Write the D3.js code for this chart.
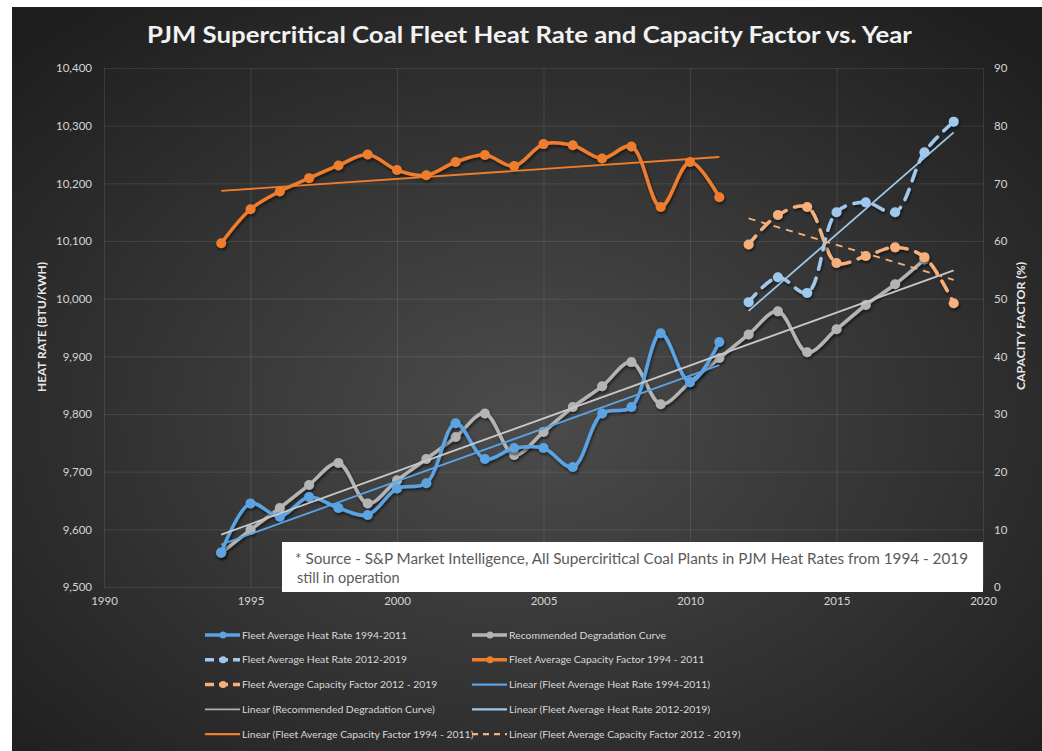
<html lang="en">
<head>
<meta charset="UTF-8" />
<title>PJM Supercritical Coal Fleet</title>
<script src="https://cdn.jsdelivr.net/npm/d3@7"></script>
<style>
  body { margin: 0; background: #fff; }
  text { font-family: Lato, "Open Sans", sans-serif; }
</style>
</head>
<body>
<script>
// ---- data ----
const years1 = [1994, 1995, 1996, 1997, 1998, 1999, 2000, 2001, 2002, 2003, 2004, 2005, 2006, 2007, 2008, 2009, 2010, 2011];
const years2 = [2012, 2013, 2014, 2015, 2016, 2017, 2018, 2019];
const degYears = [1994, 1995, 1996, 1997, 1998, 1999, 2000, 2001, 2002, 2003, 2004, 2005, 2006, 2007, 2008, 2009, 2010, 2011, 2012, 2013, 2014, 2015, 2016, 2017, 2018];

const heatRate1 = [9560, 9645, 9622, 9656, 9637, 9625, 9671, 9680, 9784, 9722, 9741, 9741, 9708, 9801, 9812, 9940, 9855, 9925];
const heatRate2 = [9994, 10037, 10010, 10150, 10167, 10150, 10254, 10307];
const degradation = [9559, 9599, 9637, 9677, 9715, 9645, 9685, 9722, 9760, 9801, 9729, 9769, 9812, 9848, 9890, 9817, 9855, 9897, 9938, 9978, 9907, 9947, 9989, 10025, 10068];
const capFactor1 = [59.6, 65.5, 68.6, 70.9, 73.1, 75.0, 72.3, 71.4, 73.7, 74.9, 73.0, 76.8, 76.6, 74.3, 76.4, 65.9, 73.7, 67.6];
const capFactor2 = [59.4, 64.5, 65.9, 56.2, 57.4, 58.9, 57.2, 49.2];

const xTicks = [1990, 1995, 2000, 2005, 2010, 2015, 2020];
const hrTicks = [9500, 9600, 9700, 9800, 9900, 10000, 10100, 10200, 10300, 10400];
const cfTicks = [0, 10, 20, 30, 40, 50, 60, 70, 80, 90];

const legendLeft = [
  "Fleet Average Heat Rate 1994-2011",
  "Fleet Average Heat Rate 2012-2019",
  "Fleet Average Capacity Factor 2012 - 2019",
  "Linear (Recommended Degradation Curve)",
  "Linear (Fleet Average Capacity Factor 1994 - 2011)"
];
const legendRight = [
  "Recommended Degradation Curve",
  "Fleet Average Capacity Factor 1994 - 2011",
  "Linear (Fleet Average Heat Rate 1994-2011)",
  "Linear (Fleet Average Heat Rate 2012-2019)",
  "Linear (Fleet Average Capacity Factor 2012 - 2019)"
];

const titleText = "PJM Supercritical Coal Fleet Heat Rate and Capacity Factor vs. Year";
const sourceLines = [
  "* Source - S&P Market Intelligence, All Superciritical Coal Plants in PJM Heat Rates from 1994 - 2019",
  "still in operation"
];

// ---- styles ----
const BLUE = "#5ba3e3", BLUE_L = "#9fc8ec", ORANGE = "#ee7d2e", ORANGE_L = "#f6b07c", GRAY = "#b4b4b4";

const width = 1042, height = 751;
const svg = d3.select("body").append("svg").attr("width", width).attr("height", height);
const defs = svg.append("defs");

const grad = defs.append("radialGradient").attr("id", "bg")
  .attr("cx", "50%").attr("cy", "55%").attr("r", "70%");
grad.append("stop").attr("offset", "0%").attr("stop-color", "#4c4c4c");
grad.append("stop").attr("offset", "100%").attr("stop-color", "#1e1e1e");

const shadow = defs.append("filter").attr("id", "shadow")
  .attr("x", "-10%").attr("y", "-10%").attr("width", "120%").attr("height", "120%");
shadow.append("feDropShadow").attr("dx", 1).attr("dy", 2).attr("stdDeviation", 1.5)
  .attr("flood-color", "#000").attr("flood-opacity", 0.6);

svg.append("rect").attr("x", 12).attr("y", 7).attr("width", width - 12).attr("height", height - 7)
  .attr("fill", "url(#bg)");

const x = d3.scaleLinear().domain([1990, 2020]).range([104, 983]);
const yHR = d3.scaleLinear().domain([9500, 10400]).range([587, 68]);
const yCF = d3.scaleLinear().domain([0, 90]).range([587, 68]);

// gridlines
svg.append("g").attr("transform", "translate(104,0)")
  .call(d3.axisLeft(yHR).tickValues(hrTicks).tickSize(-(983 - 104)).tickFormat(""))
  .call(g => g.select(".domain").remove())
  .selectAll("line").attr("stroke", "#ffffff").attr("stroke-opacity", 0.1);
svg.append("g").attr("transform", "translate(0,587)")
  .call(d3.axisBottom(x).tickValues(xTicks).tickSize(-(587 - 68)).tickFormat(""))
  .call(g => g.select(".domain").remove())
  .selectAll("line").attr("stroke", "#ffffff").attr("stroke-opacity", 0.1);

// axes labels
const tickColor = "#d4d4d4";
svg.append("g").attr("transform", "translate(104,0)")
  .call(d3.axisLeft(yHR).tickValues(hrTicks).tickSize(0).tickPadding(12).tickFormat(d3.format(",")))
  .call(g => g.select(".domain").remove())
  .selectAll("text").attr("fill", tickColor).style("font-size", "11.5px");
svg.append("g").attr("transform", "translate(983,0)")
  .call(d3.axisRight(yCF).tickValues(cfTicks).tickSize(0).tickPadding(11))
  .call(g => g.select(".domain").remove())
  .selectAll("text").attr("fill", tickColor).style("font-size", "11.5px");
svg.append("g").attr("transform", "translate(0,587)")
  .call(d3.axisBottom(x).tickValues(xTicks).tickSize(0).tickPadding(10).tickFormat(d3.format("d")))
  .call(g => g.select(".domain").remove())
  .selectAll("text").attr("fill", tickColor).style("font-size", "11.5px");

svg.append("text").attr("transform", "translate(46,327) rotate(-90)")
  .attr("text-anchor", "middle").attr("fill", "#e8e8e8").style("font-size", "11.5px").style("font-weight", "bold")
  .attr("textLength", 130).attr("lengthAdjust", "spacingAndGlyphs")
  .text("HEAT RATE (BTU/KWH)");
svg.append("text").attr("transform", "translate(1025,326) rotate(-90)")
  .attr("text-anchor", "middle").attr("fill", "#e8e8e8").style("font-size", "11.5px").style("font-weight", "bold")
  .attr("textLength", 128).attr("lengthAdjust", "spacingAndGlyphs")
  .text("CAPACITY FACTOR (%)");

svg.append("text").attr("x", 147).attr("y", 43)
  .attr("textLength", 765).attr("lengthAdjust", "spacingAndGlyphs")
  .attr("fill", "#f2f2f2").style("font-size", "22px").style("font-weight", "bold")
  .text(titleText);

// source note box
svg.append("rect").attr("x", 282).attr("y", 542).attr("width", 983 - 282).attr("height", 50)
  .attr("fill", "#ffffff");
svg.append("g").selectAll("text").data(sourceLines).join("text")
  .attr("x", (d, i) => i === 0 ? 295 : 297).attr("y", (d, i) => 564 + i * 18.5)
  .attr("textLength", (d, i) => i === 0 ? 673 : null)
  .attr("lengthAdjust", "spacingAndGlyphs")
  .attr("fill", "#5a5a5a").style("font-size", "14.5px")
  .text(d => d);

// linear fit
function fit(xs, ys) {
  const mx = d3.mean(xs), my = d3.mean(ys);
  const sxy = d3.sum(xs, (v, i) => (v - mx) * (ys[i] - my));
  const sxx = d3.sum(xs, v => (v - mx) * (v - mx));
  const b = sxy / sxx;
  return v => my + b * (v - mx);
}

const plot = svg.append("g");

function trend(xs, ys, yScale, color, dash, xEnd) {
  const f = fit(xs, ys);
  const ends = [xs[0], xEnd || xs[xs.length - 1]];
  plot.append("path")
    .attr("d", d3.line().x(d => x(d)).y(d => yScale(f(d)))(ends))
    .attr("fill", "none").attr("stroke", color).attr("stroke-width", 1.8)
    .attr("stroke-dasharray", dash ? "7,6" : null);
}

function series(xs, ys, yScale, color, dashed) {
  const g = plot.append("g").attr("filter", "url(#shadow)");
  const pts = xs.map((v, i) => [v, ys[i]]);
  g.append("path")
    .attr("d", d3.line().curve(d3.curveCatmullRom.alpha(0.5)).x(d => x(d[0])).y(d => yScale(d[1]))(pts))
    .attr("fill", "none").attr("stroke", color).attr("stroke-width", 3.5)
    .attr("stroke-linecap", "round").attr("stroke-linejoin", "round")
    .attr("stroke-dasharray", dashed ? "11,9" : null);
  g.selectAll("circle").data(pts).join("circle")
    .attr("cx", d => x(d[0])).attr("cy", d => yScale(d[1])).attr("r", 5)
    .attr("fill", color);
}

series(degYears, degradation, yHR, GRAY, false);
series(years1, heatRate1, yHR, BLUE, false);
series(years1, capFactor1, yCF, ORANGE, false);
series(years2, capFactor2, yCF, ORANGE_L, true);
series(years2, heatRate2, yHR, BLUE_L, true);

trend(years1, heatRate1, yHR, BLUE, false);
trend(degYears, degradation, yHR, "#c8c8c8", false, 2019);
trend(years1, capFactor1, yCF, ORANGE, false);
trend(years2, heatRate2, yHR, BLUE_L, false);
trend(years2, capFactor2, yCF, ORANGE_L, true);

// legend
const legendStyles = {
  left: [
    { color: BLUE, marker: true, w: 3.5 },
    { color: BLUE_L, marker: true, dash: "9,5", w: 3.5 },
    { color: ORANGE_L, marker: true, dash: "9,5", w: 3.5 },
    { color: "#b0b0b0", w: 1.8 },
    { color: ORANGE, w: 2.2 }
  ],
  right: [
    { color: GRAY, marker: true, w: 3.5 },
    { color: ORANGE, marker: true, w: 3.5 },
    { color: BLUE, w: 2.2 },
    { color: BLUE_L, w: 2.2 },
    { color: ORANGE_L, dash: "6,5", w: 2.2 }
  ]
};

function legendCol(labels, styles, x0) {
  const g = svg.append("g");
  labels.forEach((label, i) => {
    const y = 635 + i * 24.8;
    const s = styles[i];
    g.append("line").attr("x1", x0).attr("x2", x0 + 35).attr("y1", y).attr("y2", y)
      .attr("stroke", s.color).attr("stroke-width", s.w)
      .attr("stroke-dasharray", s.dash || null);
    if (s.marker) g.append("circle").attr("cx", x0 + 18).attr("cy", y).attr("r", 3.5).attr("fill", s.color);
    g.append("text").attr("x", x0 + 37).attr("y", y + 3.5)
      .attr("fill", "#d8d8d8").style("font-size", "10.4px").text(label);
  });
}
legendCol(legendLeft, legendStyles.left, 205);
legendCol(legendRight, legendStyles.right, 472);
</script>
</body>
</html>
